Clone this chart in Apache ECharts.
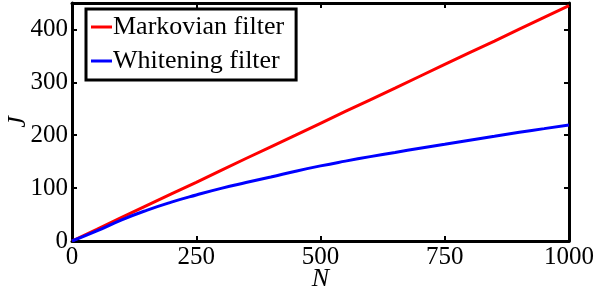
<!DOCTYPE html>
<html>
<head>
<meta charset="utf-8">
<script src="https://cdn.jsdelivr.net/npm/echarts@6/dist/echarts.min.js"></script>
<style>
  html, body { margin: 0; padding: 0; background: #fff; }
  #chart { width: 599px; height: 299px; }
</style>
</head>
<body>
<div id="chart"></div>
<script>
var nValues = [0, 50, 100, 150, 200, 250, 300, 350, 400, 450, 500, 550, 600, 650, 700, 750, 800, 850, 900, 950, 1000];
var markovian = [0, 22, 44.5, 67, 89, 111, 133.5, 156, 178, 200, 222.5, 245, 267, 289, 311.5, 334, 356, 378, 400.5, 423, 445];
var whitening = [0, 19, 40, 58, 73.5, 87, 99.5, 110.5, 121, 132, 142, 151, 159.5, 167.5, 175.5, 183, 190.5, 198, 205.5, 212.5, 219.5];
var xTicks = [0, 250, 500, 750, 1000];
var yTicks = [0, 100, 200, 300, 400];

function pairs(xs, ys) {
    var out = [];
    for (let i = 0; i < xs.length; i++) {
        out.push([xs[i], ys[i]]);
    }
    return out;
}

var serif = 'Liberation Serif';
var axisLine = { onZero: false, lineStyle: { color: '#000', width: 3 } };
var tickIn = { inside: true, length: 5, lineStyle: { color: '#000', width: 2 } };

var myChart = echarts.init(document.getElementById('chart'));
var option = {
    animation: false,
    grid: { left: 72, right: 30, top: 3, bottom: 58, containLabel: false, outerBoundsMode: 'none' },
    legend: {
        orient: 'vertical',
        left: 86,
        top: 9,
        padding: [5, 12, 6, 5],
        itemGap: 8,
        itemWidth: 21,
        itemHeight: 3,
        borderColor: '#000',
        borderWidth: 3,
        backgroundColor: '#fff',
        icon: 'rect',
        textStyle: { fontFamily: serif, fontSize: 26, color: '#000', padding: [0, 0, 0, -4] },
        data: ['Markovian filter', 'Whitening filter']
    },
    xAxis: [{
        type: 'value', min: 0, max: 1000, interval: 250, position: 'bottom',
        name: 'N', nameLocation: 'middle', nameGap: 25, nameMoveOverlap: false,
        nameTextStyle: { fontFamily: serif, fontStyle: 'italic', fontSize: 26, color: '#000' },
        axisLine: axisLine, axisTick: tickIn, splitLine: { show: false },
        axisLabel: {
            fontFamily: serif, fontSize: 25, color: '#000', margin: 4,
            formatter: function(v) { return xTicks.indexOf(v) >= 0 ? String(v) : ''; }
        }
    }, {
        type: 'value', min: 0, max: 1000, interval: 250, position: 'top',
        axisLine: axisLine, axisTick: tickIn, splitLine: { show: false },
        axisLabel: { show: false }
    }],
    yAxis: [{
        type: 'value', min: 0, max: 450, interval: 100, position: 'left',
        name: 'J', nameLocation: 'middle', nameGap: 41, nameMoveOverlap: false,
        nameTextStyle: { fontFamily: serif, fontStyle: 'italic', fontSize: 26, color: '#000' },
        axisLine: axisLine, axisTick: tickIn, splitLine: { show: false },
        axisLabel: {
            fontFamily: serif, fontSize: 25, color: '#000', margin: 4,
            formatter: function(v) { return yTicks.indexOf(v) >= 0 ? String(v) : ''; }
        }
    }, {
        type: 'value', min: 0, max: 450, interval: 100, position: 'right',
        axisLine: axisLine, axisTick: tickIn, splitLine: { show: false },
        axisLabel: { show: false }
    }],
    series: [{
        name: 'Markovian filter',
        type: 'line',
        showSymbol: false,
        smooth: false,
        color: '#ff0000',
        lineStyle: { width: 3 },
        data: pairs(nValues, markovian)
    }, {
        name: 'Whitening filter',
        type: 'line',
        showSymbol: false,
        smooth: true,
        color: '#0000ff',
        lineStyle: { width: 3 },
        data: pairs(nValues, whitening)
    }]
};
myChart.setOption(option);
</script>
</body>
</html>
